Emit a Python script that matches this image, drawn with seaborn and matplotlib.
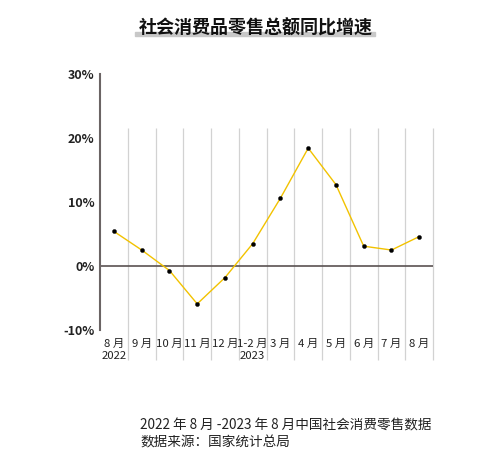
import matplotlib
matplotlib.use("Agg")
import matplotlib.pyplot as plt
import seaborn as sns
import pandas as pd

months = ["8 月", "9 月", "10 月", "11 月", "12 月", "1-2 月", "3 月", "4 月", "5 月", "6 月", "7 月", "8 月 "]
tick_labels = ["8 月\n2022", "9 月", "10 月", "11 月", "12 月", "1-2 月\n2023", "3 月", "4 月", "5 月", "6 月", "7 月", "8 月"]
growth = [5.4, 2.5, -0.7, -5.9, -1.8, 3.5, 10.6, 18.4, 12.7, 3.1, 2.5, 4.6]
y_ticks = [-10, 0, 10, 20, 30]

sns.set_theme(style="white")
plt.rcParams["font.family"] = ["Noto Sans CJK SC", "DejaVu Sans"]

df = pd.DataFrame({"month": months, "growth": growth})

fig = plt.figure(figsize=(5.03, 4.73), dpi=100)
ax = fig.add_axes([0.199, 0.302, 0.662, 0.542])

# category separators (Excel style)
for i in range(len(months)):
    ax.vlines(i + 0.5, -14.7, 21.6, color="#d2d2d2", lw=0.9, clip_on=False, zorder=0)

ax.axhline(0, color="#5a5252", lw=1.2, zorder=1)

sns.lineplot(data=df, x="month", y="growth", ax=ax, color="#f2c200", lw=1,
             sort=False, zorder=2)
sns.scatterplot(data=df, x="month", y="growth", ax=ax, color="black", s=9,
                edgecolor="black", zorder=3)

ax.set_xlim(-0.5, len(months) - 0.5)
ax.set_ylim(-10, 30)
ax.set_yticks(y_ticks)
ax.set_yticklabels([f"{v}%" for v in y_ticks], fontsize=9, fontweight="bold", color="#222222")
ax.set_xticks(range(len(months)))
ax.set_xticklabels(tick_labels, fontsize=8.2, color="#222222", linespacing=1.3)
ax.tick_params(axis="both", length=0, pad=4)
ax.tick_params(axis="x", pad=6)
ax.set_xlabel("")
ax.set_ylabel("")

for s in ["top", "right", "bottom"]:
    ax.spines[s].set_visible(False)
ax.spines["left"].set_color("#6b6464")
ax.spines["left"].set_linewidth(1.5)

# title with grey bar
fig.patches.append(plt.Rectangle((135 / 503, 1 - 36 / 473), 240 / 503, 3.5 / 473,
                                 transform=fig.transFigure, color="#c8c8c8", zorder=0))
fig.text(256 / 503, 1 - 28 / 473, "社会消费品零售总额同比增速", ha="center", va="center",
         fontsize=13, fontweight="bold", color="#111111")

fig.text(140 / 503, 1 - 425 / 473, "2022 年 8 月 -2023 年 8 月中国社会消费零售数据",
         ha="left", va="center", fontsize=9.8, color="#222222")
fig.text(140 / 503, 1 - 442 / 473, "数据来源：国家统计总局",
         ha="left", va="center", fontsize=9.8, color="#222222")

fig.savefig("out.png", dpi=100)
